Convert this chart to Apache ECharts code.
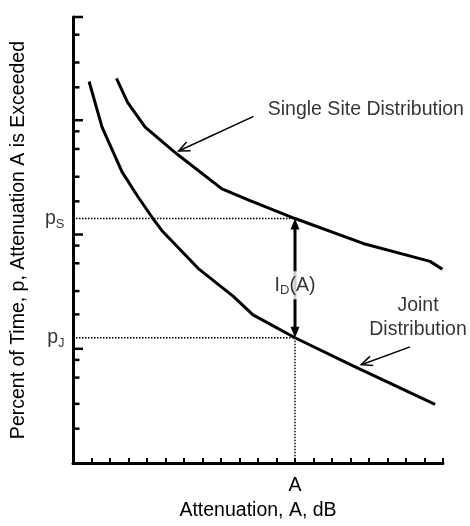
<!DOCTYPE html>
<html>
<head>
<meta charset="utf-8">
<script src="https://cdn.jsdelivr.net/npm/echarts@6/dist/echarts.min.js"></script>
<style>
html, body { margin: 0; padding: 0; background: #fff; }
#container { width: 470px; height: 526px; }
</style>
</head>
<body>
<div id="container"></div>
<script>
// curves: [attenuation, percent of time]
var singleSite = [
    [2.35, 232], [2.95, 143], [3.9, 87], [5.62, 50.6], [8.05, 25.1],
    [9.57, 19.8], [12, 13.8], [15.68, 8.35], [19.3, 5.82], [19.97, 4.96]
];
var jointDist = [
    [0.87, 218], [1.57, 87], [2.65, 35.3], [3.51, 21.4], [4.32, 13.8],
    [4.81, 10.8], [6.76, 5.06], [8.65, 2.89], [9.73, 1.98], [12, 1.25],
    [15.14, 0.71], [19.57, 0.326]
];
var attenA = 12;
var pS = 13.8;
var pJ = 1.25;

// y axis tick values (log axis)
var yMinorTicks = [0.2, 0.33, 0.56, 0.8, 2, 3.2, 5.6, 8, 19.5, 32, 56, 80, 194, 320, 560];
var yMajorTicks = [1, 10, 100, 800];

// annotation anchors, in axis units
var pointers = [
    [9.76, 108, 5.71, 53.8],
    [18.22, 1.04, 15.58, 0.726]
];
var singleLabelAt = [10.5, 125];
var jointLabelAt = [18.65, 1.86];
var gapLabelAt = [attenA, 3.6];

var font = "'Liberation Sans', Arial, Helvetica, sans-serif";

window.onload = function() {
    var myChart = echarts.init(document.getElementById("container"));

    var tickData = [];
    yMinorTicks.forEach(function(v) { tickData.push([0, v, 6.5]); });
    yMajorTicks.forEach(function(v) { tickData.push([0, v, 10]); });

    function renderTick(params, api) {
        var p = api.coord([api.value(0), api.value(1)]);
        return {
            type: "line",
            shape: { x1: p[0], y1: p[1], x2: p[0] + api.value(2), y2: p[1] },
            style: { stroke: "#000", lineWidth: 2.5 }
        };
    }

    // thin pointer with open arrow head
    function renderPointer(params, api) {
        var a = api.coord([api.value(0), api.value(1)]);
        var b = api.coord([api.value(2), api.value(3)]);
        var ang = Math.atan2(a[1] - b[1], a[0] - b[0]);
        var len = 12, spread = 0.42;
        var h1 = [b[0] + len * Math.cos(ang + spread), b[1] + len * Math.sin(ang + spread)];
        var h2 = [b[0] + len * Math.cos(ang - spread), b[1] + len * Math.sin(ang - spread)];
        return {
            type: "group",
            children: [
                { type: "line", shape: { x1: a[0], y1: a[1], x2: b[0], y2: b[1] }, style: { stroke: "#000", lineWidth: 1.5 } },
                { type: "polyline", shape: { points: [h1, b, h2] }, style: { stroke: "#000", lineWidth: 1.5, fill: null } }
            ]
        };
    }

    // thick double headed arrow between pS and pJ
    function renderGap(params, api) {
        var a = api.coord([api.value(0), api.value(1)]);
        var b = api.coord([api.value(2), api.value(3)]);
        var hl = 11, hw = 4.5;
        return {
            type: "group",
            children: [
                { type: "line", shape: { x1: a[0], y1: a[1] + hl - 1, x2: b[0], y2: b[1] - hl + 1 }, style: { stroke: "#000", lineWidth: 3 } },
                { type: "polygon", shape: { points: [[a[0], a[1]], [a[0] - hw, a[1] + hl], [a[0] + hw, a[1] + hl]] }, style: { fill: "#000" } },
                { type: "polygon", shape: { points: [[b[0], b[1]], [b[0] - hw, b[1] - hl], [b[0] + hw, b[1] - hl]] }, style: { fill: "#000" } }
            ]
        };
    }

    var textBase = { color: "#000", fontFamily: font, fontSize: 19.5 };
    var subRich = {
        m: { fontSize: 19.5, lineHeight: 24, fontFamily: font, color: "#000" },
        s: { fontSize: 13, lineHeight: 13, verticalAlign: "bottom", fontFamily: font, color: "#000" }
    };
    var hidden = { color: "rgba(0,0,0,0)" };

    myChart.setOption({
        animation: false,
        backgroundColor: "#fff",
        grid: { left: 73, right: 27, top: 17, bottom: 60 },
        xAxis: {
            type: "value",
            min: 0,
            max: 20,
            interval: 1,
            name: "Attenuation, A, dB",
            nameLocation: "middle",
            nameGap: 37,
            nameTextStyle: textBase,
            axisLine: { lineStyle: { color: "#000", width: 3 } },
            axisTick: { inside: true, length: 5, lineStyle: { color: "#000", width: 2 } },
            axisLabel: {
                interval: 0,
                margin: 13,
                color: "#000",
                fontFamily: font,
                fontSize: 19.5,
                formatter: function(v) { return v === attenA ? "A" : ""; }
            },
            splitLine: { show: false }
        },
        yAxis: {
            type: "log",
            logBase: 10,
            min: 0.1,
            max: 800,
            name: "Percent of Time, p, Attenuation A is Exceeded",
            nameLocation: "middle",
            nameGap: 44,
            nameTextStyle: textBase,
            axisLine: { show: true, lineStyle: { color: "#000", width: 3 } },
            axisTick: { show: false },
            axisLabel: { show: false },
            splitLine: { show: false }
        },
        series: [
            {
                type: "custom",
                name: "yTicks",
                renderItem: renderTick,
                data: tickData,
                encode: { x: 0, y: 1 },
                clip: false,
                silent: true,
                z: 5
            },
            {
                type: "line",
                name: "pS guide",
                data: [[0, pS], [attenA, pS]],
                showSymbol: false,
                lineStyle: { color: "#000", width: 1.4, type: [1.5, 1.5] },
                silent: true,
                z: 2
            },
            {
                type: "line",
                name: "pJ guide",
                data: [[0, pJ], [attenA, pJ], [attenA, 0.1]],
                showSymbol: false,
                lineStyle: { color: "#000", width: 1.4, type: [1.5, 1.5] },
                silent: true,
                z: 2
            },
            {
                type: "line",
                name: "Single Site Distribution",
                data: singleSite,
                showSymbol: false,
                lineStyle: { color: "#000", width: 3 },
                z: 3
            },
            {
                type: "line",
                name: "Joint Distribution",
                data: jointDist,
                showSymbol: false,
                lineStyle: { color: "#000", width: 3 },
                z: 3
            },
            {
                type: "custom",
                name: "pointers",
                renderItem: renderPointer,
                data: pointers,
                encode: { x: [0, 2], y: [1, 3] },
                clip: false,
                silent: true,
                z: 4
            },
            {
                type: "custom",
                name: "ID gap",
                renderItem: renderGap,
                data: [[attenA, pS, attenA, pJ]],
                encode: { x: [0, 2], y: [1, 3] },
                clip: false,
                silent: true,
                z: 4
            },
            {
                type: "scatter",
                name: "p labels",
                data: [[0, pS, "S"], [0, pJ, "J"]],
                symbolSize: 1,
                itemStyle: hidden,
                label: {
                    show: true,
                    position: "left",
                    distance: 8,
                    formatter: function(p) { return "{m|p}{s|" + p.value[2] + "}"; },
                    rich: subRich
                },
                clip: false,
                silent: true,
                z: 6
            },
            {
                type: "scatter",
                name: "gap label",
                data: [gapLabelAt],
                symbolSize: 1,
                itemStyle: hidden,
                label: {
                    show: true,
                    position: "inside",
                    backgroundColor: "#fff",
                    padding: [2, 2],
                    formatter: "{m|I}{s|D}{m|(A)}",
                    rich: subRich
                },
                silent: true,
                z: 6
            },
            {
                type: "scatter",
                name: "curve labels",
                data: [
                    { value: singleLabelAt, label: { position: "right", distance: 0, formatter: "Single Site Distribution" } },
                    { value: jointLabelAt, label: { position: "inside", formatter: "Joint\nDistribution", lineHeight: 24 } }
                ],
                symbolSize: 1,
                itemStyle: hidden,
                label: {
                    show: true,
                    color: "#000",
                    fontFamily: font,
                    fontSize: 19.5
                },
                clip: false,
                silent: true,
                z: 6
            }
        ]
    });
};
</script>
</body>
</html>
